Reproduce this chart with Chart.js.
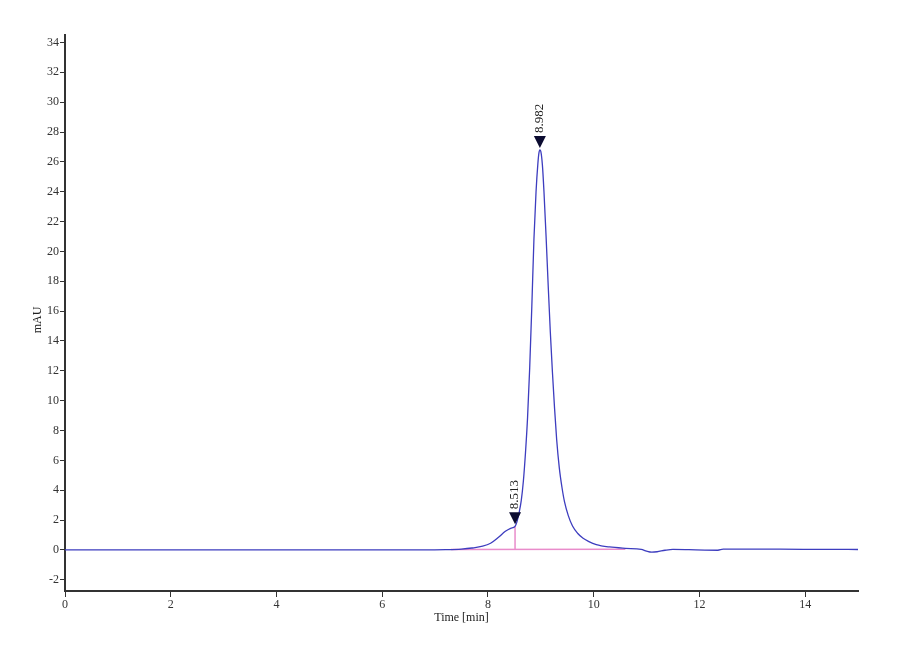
<!DOCTYPE html>
<html>
<head>
<meta charset="utf-8">
<script src="https://cdn.jsdelivr.net/npm/chart.js@4.4.1/dist/chart.umd.min.js"></script>
<style>
  html, body { margin: 0; padding: 0; background: #fff; }
  #wrap { width: 900px; height: 660px; }
</style>
</head>
<body>
<div id="wrap"><canvas id="chromChart"></canvas></div>
<script>
// Chromatogram trace
const times = [0, 1, 2, 3, 4, 5, 6, 6.8, 7.2, 7.5, 7.7, 7.9, 8.05, 8.2, 8.33, 8.43, 8.513,
    8.55, 8.59, 8.63, 8.67, 8.71, 8.75, 8.79, 8.83, 8.87, 8.91, 8.945, 8.965, 8.982,
    9.0, 9.03, 9.06, 9.1, 9.14, 9.18, 9.22, 9.26, 9.3, 9.35, 9.4, 9.45, 9.52, 9.6,
    9.7, 9.8, 9.9, 10.05, 10.3, 10.6, 10.9, 11.0, 11.1, 11.2, 11.35, 11.5, 11.8,
    12.1, 12.35, 12.45, 12.8, 13.5, 14.2, 15];
const signal = [0, 0, 0, 0, 0, 0, 0, 0, 0.02, 0.06, 0.13, 0.25, 0.45, 0.85, 1.25, 1.45, 1.58,
    1.9, 2.5, 3.3, 4.6, 6.5, 8.9, 12.2, 16.3, 20.8, 24.0, 25.9, 26.6, 26.8,
    26.7, 25.8, 24.0, 21.0, 17.7, 14.6, 11.9, 9.5, 7.4, 5.5, 4.2, 3.2, 2.3, 1.6,
    1.1, 0.78, 0.58, 0.36, 0.2, 0.11, 0.04, -0.08, -0.15, -0.12, -0.02, 0.04, 0.02,
    -0.01, -0.02, 0.05, 0.05, 0.05, 0.04, 0.03];

// Integration baseline and peak drop line
const baseTimes = [7.3, 10.6];
const baseValues = [0.03, 0.05];
const dropTimes = [8.513, 8.513];
const dropValues = [0.04, 1.58];

// Peak annotations
const peakTimes = [8.513, 8.982];
const peakHeights = [1.58, 26.8];
const peakLabels = ['8.513', '8.982'];

const yTicks = [-2, 0, 2, 4, 6, 8, 10, 12, 14, 16, 18, 20, 22, 24, 26, 28, 30, 32, 34];
const xTicks = [0, 2, 4, 6, 8, 10, 12, 14];

const toPoints = (xs, ys) => xs.map((x, i) => ({ x: x, y: ys[i] }));

const serif = 'Liberation Serif, Times New Roman, serif';

// Peak markers and axis titles
const annotate = {
    id: 'annotate',
    afterDatasetsDraw(chart) {
        const ctx = chart.ctx;
        const xs = chart.scales.x;
        const ys = chart.scales.y;
        ctx.save();
        peakTimes.forEach((t, i) => {
            const px = xs.getPixelForValue(t);
            const py = ys.getPixelForValue(peakHeights[i]) - 2;
            ctx.fillStyle = '#0b0b30';
            ctx.beginPath();
            ctx.moveTo(px, py);
            ctx.lineTo(px - 6, py - 12);
            ctx.lineTo(px + 6, py - 12);
            ctx.closePath();
            ctx.fill();
            ctx.save();
            ctx.translate(px, py - 15);
            ctx.rotate(-Math.PI / 2);
            ctx.font = '13px ' + serif;
            ctx.fillStyle = '#222';
            ctx.textAlign = 'left';
            ctx.textBaseline = 'middle';
            ctx.fillText(peakLabels[i], 0, 0);
            ctx.restore();
        });
        // axis titles
        ctx.font = '12px ' + serif;
        ctx.fillStyle = '#222';
        ctx.textAlign = 'center';
        ctx.textBaseline = 'middle';
        ctx.fillText('Time [min]', (chart.chartArea.left + chart.chartArea.right) / 2, 618);
        ctx.save();
        ctx.translate(38, 320);
        ctx.rotate(-Math.PI / 2);
        ctx.fillText('mAU', 0, 0);
        ctx.restore();
        ctx.restore();
    }
};

function initChart() {
    const ctx = document.getElementById('chromChart').getContext('2d');
    new Chart(ctx, {
        type: 'line',
        data: {
            datasets: [{
                label: 'Signal',
                data: toPoints(times, signal),
                borderColor: '#3d3dbf',
                borderWidth: 1.3,
                pointRadius: 0,
                cubicInterpolationMode: 'monotone',
                fill: false
            }, {
                label: 'Baseline',
                data: toPoints(baseTimes, baseValues),
                borderColor: '#e98ccb',
                borderWidth: 1.5,
                pointRadius: 0,
                fill: false
            }, {
                label: 'Drop',
                data: toPoints(dropTimes, dropValues),
                borderColor: '#e98ccb',
                borderWidth: 1.5,
                pointRadius: 0,
                fill: false
            }]
        },
        options: {
            responsive: true,
            maintainAspectRatio: false,
            animation: false,
            layout: { padding: { left: 0, right: 42, top: 35, bottom: 0 } },
            plugins: {
                legend: { display: false },
                tooltip: { enabled: false }
            },
            scales: {
                x: {
                    type: 'linear',
                    min: 0,
                    max: 15,
                    afterFit: (scale) => { scale.height = 69; },
                    afterBuildTicks: (scale) => { scale.ticks = xTicks.map(v => ({ value: v })); },
                    ticks: { color: '#333', padding: 1, font: { family: serif, size: 12 } },
                    grid: { drawOnChartArea: false, drawTicks: true, tickLength: 6, color: '#333', lineWidth: 1 },
                    border: { display: true, color: '#333', width: 2 }
                },
                y: {
                    type: 'linear',
                    min: -2.75,
                    max: 34.5,
                    afterFit: (scale) => { scale.width = 65; },
                    afterBuildTicks: (scale) => { scale.ticks = yTicks.map(v => ({ value: v })); },
                    ticks: { color: '#333', padding: 1, font: { family: serif, size: 12 } },
                    grid: { drawOnChartArea: false, drawTicks: true, tickLength: 5, color: '#333', lineWidth: 1 },
                    border: { display: true, color: '#333', width: 2 }
                }
            }
        },
        plugins: [annotate]
    });
}

initChart();
</script>
</body>
</html>
